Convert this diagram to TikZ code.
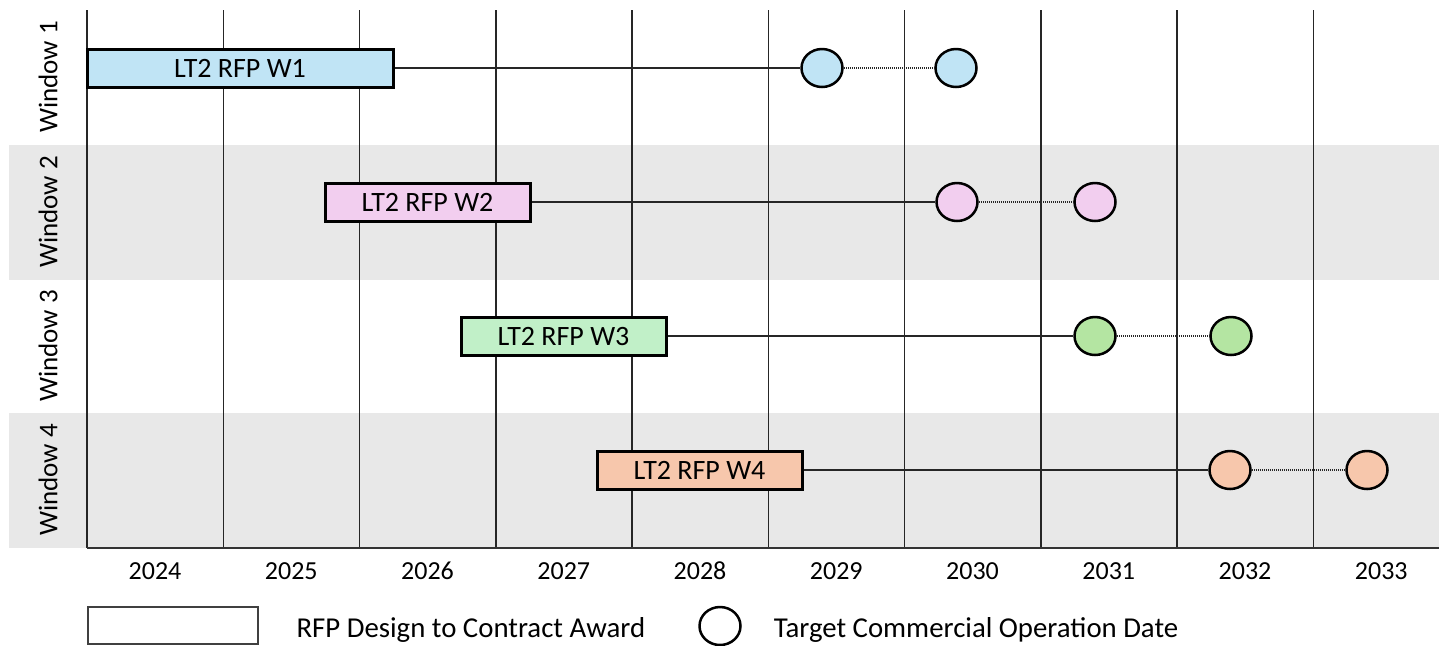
\documentclass[tikz,border=0pt]{standalone}
\usepackage{fontspec}
\setmainfont{Carlito}
\usetikzlibrary{positioning,shapes.geometric}
\definecolor{bandgrey}{HTML}{E8E8E8}
\definecolor{wblue}{HTML}{C0E4F5}
\definecolor{wpink}{HTML}{F2CEEF}
\definecolor{wgreen}{HTML}{C1F0C8}
\definecolor{wgreendot}{HTML}{B4E5A2}
\definecolor{worange}{HTML}{F7C7AC}
\begin{document}
\begin{tikzpicture}[x=0.5pt, y=-0.5pt,
  bar/.style = {draw, line width=1.5pt, minimum width=102.5pt, minimum height=19pt, inner sep=0pt, font=\fontsize{14}{16}\selectfont},
  cod/.style = {draw, ellipse, line width=1.25pt, minimum width=20.5pt, minimum height=19pt, inner sep=0pt},
  gridline/.style = {line width=0.75pt, black!85},
  yr/.style = {font=\fontsize{13}{15}\selectfont},
  win/.style = {rotate=90, font=\fontsize{13.5}{15}\selectfont},
  legend/.style = {font=\fontsize{14.4}{16}\selectfont, yshift=-2pt},
  link/.style = {line width=0.6pt, black!85},
  later/.style = {line width=0.6pt, dash pattern=on 0.6pt off 0.4pt, black!85}]
\useasboundingbox (0,0) rectangle (1439,645);
% bands
\fill[bandgrey] (9,145) rectangle (1439,280);
\fill[bandgrey] (9,413) rectangle (1439,548);
% years
\foreach \yr [count=\i from 0] in {2024,...,2033} {
  \draw[gridline] (87+136.25*\i,10) -- (87+136.25*\i,548);
  \node[yr] (y\yr) at (155+136.25*\i,571) {\yr};
}
\draw[line width=1pt, black!80] (87,548) -- (1439,548);

\node[win] (win1) at (48,77) {Window 1};
\node[win] (win2) at (48,212) {Window 2};
\node[win] (win3) at (48,346) {Window 3};
\node[win] (win4) at (48,480) {Window 4};

\node[bar, fill=wblue, minimum width=153pt] (w1) at (240,68) {LT2 RFP W1};
\node[bar, fill=wpink] (w2) at (427.5,202) {LT2 RFP W2};
\node[bar, fill=wgreen] (w3) at (563.5,336) {LT2 RFP W3};
\node[bar, fill=worange] (w4) at (699.5,470) {LT2 RFP W4};

\node[cod, fill=wblue] (w1a) at (822,68) {};
\node[cod, fill=wblue] (w1b) at (956,68) {};
\node[cod, fill=wpink] (w2a) at (957,202) {};
\node[cod, fill=wpink] (w2b) at (1095,202) {};
\node[cod, fill=wgreendot] (w3a) at (1095,336) {};
\node[cod, fill=wgreendot] (w3b) at (1231,336) {};
\node[cod, fill=worange] (w4a) at (1230,470) {};
\node[cod, fill=worange] (w4b) at (1367,470) {};

\draw[link] (w1) -- (w1a);
\draw[later] (w1a) -- (w1b);
\draw[link] (w2) -- (w2a);
\draw[later] (w2a) -- (w2b);
\draw[link] (w3) -- (w3a);
\draw[later] (w3a) -- (w3b);
\draw[link] (w4) -- (w4a);
\draw[later] (w4a) -- (w4b);

% legend
\node[draw, line width=1pt, black!75, minimum width=85pt, minimum height=18.5pt, inner sep=0pt] (lgbar) at (172.5,625.5) {};
\node[legend, right=15.5pt of lgbar] (lgbartxt) {RFP Design to Contract Award};
\node[cod, fill=white] (lgcod) at (720,626) {};
\node[legend, right=12.5pt of lgcod] (lgcodtxt) {Target Commercial Operation Date};
\end{tikzpicture}
\end{document}
